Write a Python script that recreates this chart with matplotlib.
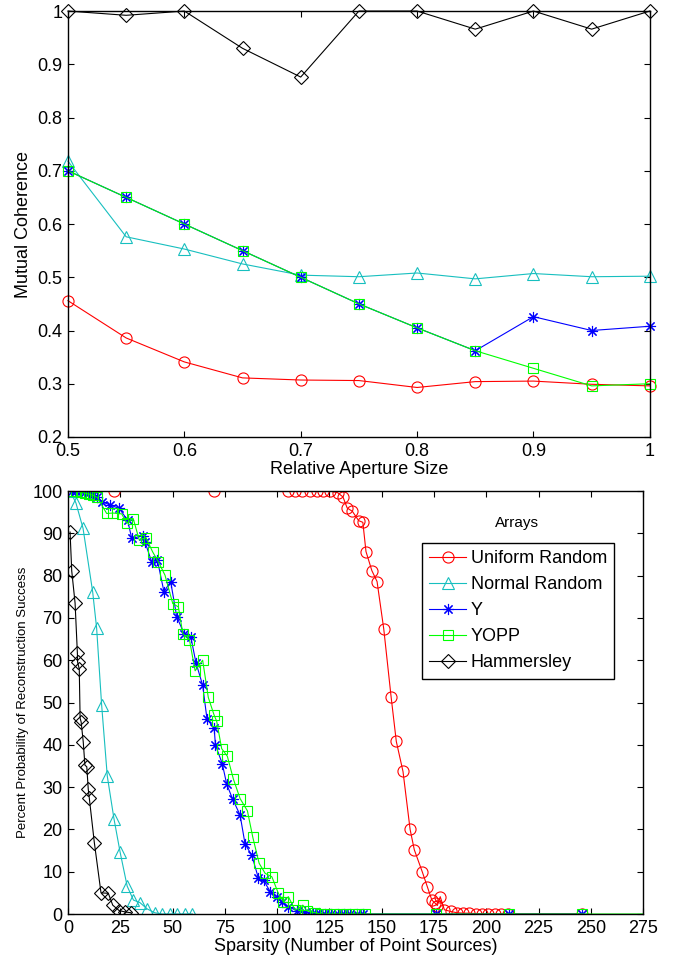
import matplotlib
matplotlib.use("Agg")
import matplotlib.pyplot as plt

plt.rcParams["font.family"] = ["Liberation Sans", "DejaVu Sans"]

# ---------------- top panel: mutual coherence vs aperture ----------------
aperture = [0.5, 0.55, 0.6, 0.65, 0.7, 0.75, 0.8, 0.85, 0.9, 0.95, 1.0]
coh_uniform = [0.456, 0.386, 0.341, 0.311, 0.307, 0.306, 0.293, 0.304, 0.305, 0.299, 0.296]
coh_normal = [0.718, 0.576, 0.553, 0.525, 0.504, 0.501, 0.508, 0.497, 0.507, 0.501, 0.502]
coh_y = [0.70, 0.65, 0.60, 0.55, 0.50, 0.45, 0.405, 0.362, 0.426, 0.400, 0.408]
coh_yopp = [0.70, 0.65, 0.60, 0.55, 0.50, 0.45, 0.405, 0.362, 0.329, 0.296, 0.300]
coh_hamm = [1.0, 0.992, 1.0, 0.930, 0.876, 1.0, 1.0, 0.966, 1.0, 0.966, 1.0]

top_xticks = [0.5, 0.6, 0.7, 0.8, 0.9, 1.0]
top_xlabels = ["0.5", "0.6", "0.7", "0.8", "0.9", "1"]
top_yticks = [0.2, 0.3, 0.4, 0.5, 0.6, 0.7, 0.8, 0.9, 1.0]
top_ylabels = ["0.2", "0.3", "0.4", "0.5", "0.6", "0.7", "0.8", "0.9", "1"]

# ---------------- bottom panel: recovery vs sparsity ----------------
uni_x = [22, 70, 105, 108.5, 112, 115.5, 119, 122, 125.5, 129, 131.5, 133.5, 136, 139, 141,
         142.5, 145.3, 147.8, 151, 154.5, 157, 160.2, 163.6, 165.6, 169.4, 171.8, 174, 175.5,
         176.6, 178, 180, 183, 186, 189, 192, 195, 198, 201, 204, 207, 210.5, 246]
uni_y = [100, 100, 100, 100, 100, 100, 100, 100, 100, 99.6, 98.6, 96, 95.2, 93, 92.6,
         85.7, 81.2, 78.6, 67.4, 51.4, 40.8, 33.7, 20, 15.2, 10, 6.5, 3.3, 2.6,
         2.0, 4.1, 1.0, 0.6, 0.3, 0.2, 0.2, 0.1, 0, 0, 0, 0, 0, 0]

norm_x = [1, 3.8, 7.2, 11.8, 13.7, 16.1, 18.8, 22.0, 24.9, 28.3, 31.3, 34.4, 37.9, 41.5,
          45, 48.6, 52.2, 55.8, 59.5]
norm_y = [100, 97.2, 91.2, 76.2, 67.6, 49.4, 32.6, 22.5, 14.7, 6.6, 3.3, 2.7, 1.2, 0.3,
          0, 0, 0, 0, 0]

y_x = [2, 4, 6, 8, 10, 12, 14, 16.1, 20.1, 24.5, 28.5, 30.5, 35.7, 36.8, 40, 42.7, 45.9,
       49.1, 52, 55.5, 58.7, 61.2, 64.4, 66.5, 69.9, 70.5, 73.8, 75.9, 78.8, 82.3, 84.7,
       87.9, 91.1, 93.5, 96.7, 99.8, 102.2, 105.4, 109.4, 113.4, 117, 120, 123, 126, 129,
       132, 135, 138, 141, 176, 211, 246]
y_y = [100, 100, 100, 99.7, 99.5, 99, 98.5, 97.5, 96.7, 95.9, 93.1, 88.8, 89.4, 88, 83.3,
       83.8, 76.2, 78.6, 70.3, 66.3, 65.6, 59.4, 54.1, 46, 44, 40, 35.5, 30.7, 27.1, 23.4,
       16.5, 13.9, 8.4, 8.0, 5.3, 4.1, 2.9, 1.7, 0.8, 0.5, 0.3, 0.2, 0, 0, 0,
       0, 0, 0, 0, 0, 0, 0]

yopp_x = [2, 4, 6, 8, 10, 12, 14, 18.5, 21.6, 25.7, 28.1, 31.2, 34.1, 37.3, 40.5, 43.2,
          46.4, 50.1, 52.8, 54.9, 58.1, 60.8, 64.4, 67.1, 69.9, 71.1, 73.5, 76.2, 79.1,
          82.3, 85.8, 88.4, 91.4, 94.3, 97.5, 100.6, 103, 105.4, 108.6, 112.3, 114.2, 118,
          121, 124, 127, 130, 133, 136, 139, 142, 176, 211, 246, 290]
yopp_y = [100, 100, 99.8, 99.5, 99.3, 99, 98.5, 94.7, 94.8, 94.6, 92.4, 93.5, 88.4, 89,
          85.6, 83.3, 80.1, 73.4, 72.6, 66.3, 64.8, 57.5, 60, 51.2, 47, 45.6, 39.1, 37.3,
          31.9, 27.3, 24.4, 18.1, 12, 9.6, 8.8, 4.9, 2.9, 4.1, 0.9, 2.1, 0.8, 0.3,
          0, 0, 0, 0, 0, 0, 0, 0, 0, 0, 0, 0]

hamm_x = [1, 1.8, 3.4, 4.5, 4.6, 5.4, 5.8, 6.3, 7.3, 8.1, 9.0, 9.7, 10.2, 12.6, 15.8,
          19.3, 21.4, 24.5, 27.3, 30.1]
hamm_y = [90.3, 81.1, 73.5, 61.7, 59.6, 57.9, 46.3, 45.4, 40.7, 35.2, 34.8, 29.5, 27.4,
          16.9, 5.0, 4.9, 2.1, 0.8, 0.5, 0.3]

labels = ["Uniform Random", "Normal Random", "Y", "YOPP", "Hammersley"]
colors = ["#ff0000", "#17bfbf", "#0000ff", "#00ff00", "#000000"]
markers = ["o", "^", (8, 2, 0), "s", "D"]   # (8,2,0) = matlab style asterisk
msizes = [8, 8, 8, 6.5, 7.5]

fig = plt.figure(figsize=(6.75, 9.6), dpi=100)
ax1 = fig.add_axes([0.1007, 0.5448, 0.862, 0.4437])
ax2 = fig.add_axes([0.1007, 0.0479, 0.852, 0.4406])

top_series = [coh_uniform, coh_normal, coh_y, coh_yopp, coh_hamm]
for vals, c, m, ms in zip(top_series, colors, markers, msizes):
    ax1.plot(aperture, vals, color=c, marker=m, markersize=ms, markerfacecolor="none",
             markeredgecolor=c, markeredgewidth=0.8, linewidth=0.8, clip_on=False)

ax1.set_xlim(0.5, 1.0)
ax1.set_ylim(0.2, 1.0)
ax1.set_xticks(top_xticks)
ax1.set_xticklabels(top_xlabels)
ax1.set_yticks(top_yticks)
ax1.set_yticklabels(top_ylabels)
ax1.set_xlabel("Relative Aperture Size", fontsize=13, labelpad=1)
ax1.set_ylabel("Mutual Coherence", fontsize=13, labelpad=4)

bottom_series = [(uni_x, uni_y), (norm_x, norm_y), (y_x, y_y), (yopp_x, yopp_y), (hamm_x, hamm_y)]
for (xs, ys), c, m, ms, lab in zip(bottom_series, colors, markers, msizes, labels):
    ax2.plot(xs, ys, color=c, marker=m, markersize=ms, markerfacecolor="none",
             markeredgecolor=c, markeredgewidth=0.8, linewidth=0.8, label=lab)

ax2.set_xlim(0, 275)
ax2.set_ylim(0, 100)
ax2.set_xticks(range(0, 276, 25))
ax2.set_yticks(range(0, 101, 10))
ax2.set_xlabel("Sparsity (Number of Point Sources)", fontsize=13, labelpad=1)
ax2.set_ylabel("Percent Probability of Reconstruction Success", fontsize=9.5, labelpad=2)

leg = ax2.legend(loc="upper left", bbox_to_anchor=(0.616, 0.877), borderaxespad=0,
                 fontsize=13, numpoints=1, handlelength=2.0, handletextpad=0.3,
                 labelspacing=0.5, borderpad=0.4, fancybox=False, framealpha=1)
leg.get_frame().set_edgecolor("black")
leg.get_frame().set_linewidth(1.0)
ax2.text(0.781, 0.924, "Arrays", transform=ax2.transAxes, ha="center", va="center",
         fontsize=11)

for ax in (ax1, ax2):
    ax.tick_params(direction="in", top=True, right=True, length=4, width=0.8,
                   labelsize=13, pad=4)
    for s in ax.spines.values():
        s.set_linewidth(1.0)

fig.savefig("out.png", dpi=100)
